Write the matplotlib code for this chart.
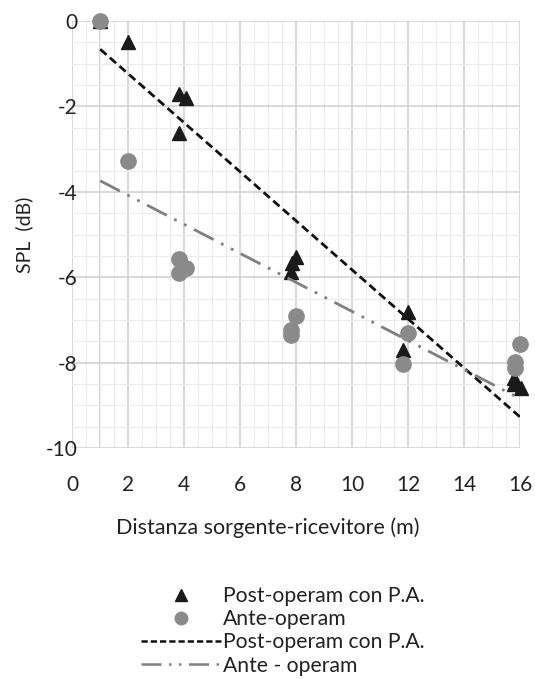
import numpy as np
import matplotlib
matplotlib.use('Agg')
import matplotlib.pyplot as plt
from matplotlib.ticker import MultipleLocator
from matplotlib.lines import Line2D

plt.rcParams['font.family'] = ['Lato', 'DejaVu Sans']
plt.rcParams['axes.unicode_minus'] = False

# post-operam con P.A. (triangoli)
post_x = [1, 2, 3.8, 4.05, 3.83, 8.0, 7.85, 7.8, 12.0, 11.83, 15.8, 16.05, 15.8]
post_y = [0, -0.5, -1.7, -1.8, -2.62, -5.52, -5.67, -5.87, -6.81, -7.7, -8.49, -8.6, -8.35]

# ante-operam (cerchi)
ante_x = [1, 2, 3.8, 4.05, 3.8, 8.0, 7.8, 7.8, 12.0, 11.83, 16.0, 15.82, 15.82]
ante_y = [0, -3.27, -5.56, -5.79, -5.91, -6.9, -7.24, -7.35, -7.3, -8.02, -7.55, -7.98, -8.13]

# linee di tendenza (pendenza, intercetta)
post_fit = [-0.574, -0.086]
ante_fit = [-0.34, -3.40]
fit_range = [1, 16]

xticks = [0, 2, 4, 6, 8, 10, 12, 14, 16]
yticks = [0, -2, -4, -6, -8, -10]

fig = plt.figure(figsize=(5.35, 6.79), dpi=100)
ax = fig.add_axes([0.135, 0.340, 0.837, 0.629])

ax.plot(post_x, post_y, linestyle='none', marker='^', color='#1a1a1a', markersize=10,
        zorder=3, clip_on=False)
ax.plot(ante_x, ante_y, linestyle='none', marker='o', color='#8a8a8a', markersize=11,
        zorder=4, clip_on=False)

xf = np.array(fit_range)
ax.plot(xf, np.polyval(post_fit, xf), color='#111111', linewidth=2, linestyle=(0, (3, 1.6)), zorder=5)
ax.plot(xf, np.polyval(ante_fit, xf), color='#808080', linewidth=2,
        linestyle=(0, (8, 3, 1, 3, 1, 3)), zorder=5)

ax.set_xlim(0, 16)
ax.set_ylim(-10, 0)
ax.set_xticks(xticks)
ax.set_yticks(yticks)
ax.xaxis.set_minor_locator(MultipleLocator(0.5))
ax.yaxis.set_minor_locator(MultipleLocator(0.5))
ax.grid(True, which='major', color='#d2d2d2', linewidth=1.2)
ax.grid(True, which='minor', color='#ebebeb', linewidth=0.8)
ax.axvline(1, color='#d2d2d2', linewidth=1.2, zorder=0.5)
ax.set_axisbelow(True)
for s in ax.spines.values():
    s.set_visible(False)
ax.tick_params(which='both', length=0)
ax.tick_params(axis='x', labelsize=15, pad=19, colors='#222222')
ax.tick_params(axis='y', labelsize=15, pad=-4, colors='#222222')

ax.set_xlabel('Distanza sorgente-ricevitore (m)', fontsize=15.5, color='#222222')
ax.xaxis.set_label_coords(0.4375, -0.163)
ax.set_ylabel('SPL  (dB)', fontsize=14, color='#222222', labelpad=9)

handles = [
    Line2D([], [], linestyle='none', marker='^', color='#1a1a1a', markersize=9),
    Line2D([], [], linestyle='none', marker='o', color='#8a8a8a', markersize=9),
    Line2D([], [], color='#111111', linewidth=1.8, linestyle=(0, (2.5, 1.2))),
    Line2D([], [], color='#808080', linewidth=1.8, linestyle=(0, (8, 3, 1, 3, 1, 3))),
]
labels = ['Post-operam con P.A.', 'Ante-operam', 'Post-operam con P.A.', 'Ante - operam']
fig.legend(handles, labels, loc='center', bbox_to_anchor=(0.528, 0.071), frameon=False,
           fontsize=15.2, handlelength=3.8, handletextpad=0.1, labelspacing=0.15,
           labelcolor='#222222')

fig.savefig('out.png', dpi=100)
